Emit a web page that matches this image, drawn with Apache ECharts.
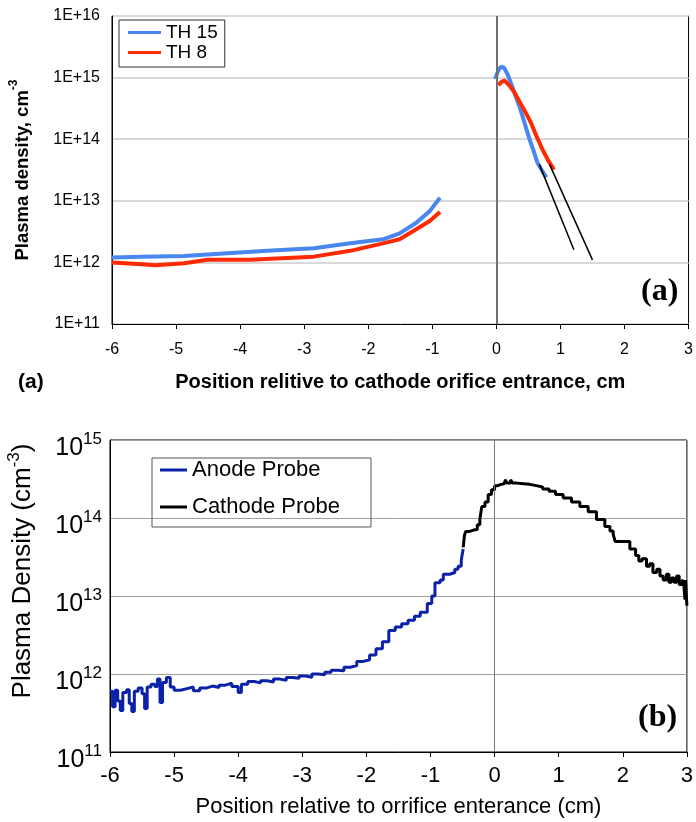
<!DOCTYPE html>
<html>
<head>
<meta charset="utf-8">
<script src="https://cdn.jsdelivr.net/npm/echarts@6/dist/echarts.min.js"></script>
<style>
html,body{margin:0;padding:0;background:#fff;}
#c{width:696px;height:822px;}
</style>
</head>
<body>
<div id="c"></div>
<script>
// ---------- Panel (a) data ----------
const th15X = [-6.0,-5.54,-4.87,-4.20,-3.58,-2.85,-2.28,-1.77,-1.51,-1.25,-1.04,-0.88,
               null,
               -0.02,0.03,0.07,0.12,0.18,0.25,0.36,0.45,0.52,0.58,0.64,0.72,0.78];
const th15Y = [1.20e12,1.24e12,1.27e12,1.41e12,1.54e12,1.70e12,2.04e12,2.37e12,2.96e12,4.4e12,6.8e12,1.12e13,
               null,
               9.5e14,1.3e15,1.5e15,1.45e15,1.1e15,7.0e14,3.4e14,1.7e14,9.8e13,6.5e13,4.2e13,3.0e13,2.4e13];
const th8X = [-6.0,-5.54,-5.33,-4.87,-4.51,-3.84,-3.27,-2.85,-2.28,-1.77,-1.51,-1.25,-1.04,-0.88,
              null,
              0.03,0.08,0.13,0.20,0.28,0.36,0.45,0.54,0.63,0.72,0.81,0.90];
const th8Y = [1.0e12,0.93e12,0.90e12,0.97e12,1.1e12,1.1e12,1.18e12,1.24e12,1.54e12,2.04e12,2.37e12,3.45e12,4.7e12,6.6e12,
              null,
              7.6e14,8.5e14,8.9e14,7.5e14,5.8e14,4.1e14,2.8e14,1.85e14,1.1e14,6.8e13,4.5e13,3.2e13];
const fit1X = [0.67,1.21];
const fit1Y = [3.9e13,1.6e12];
const fit2X = [0.83,1.50];
const fit2Y = [3.9e13,1.1e12];
const topNames = ['TH 15','TH 8'];

// ---------- Panel (b) data ----------
const anodeX = [-6.00,-5.96,-5.92,-5.88,-5.84,-5.80,-5.74,-5.70,-5.66,-5.62,-5.56,-5.50,-5.46,-5.42,-5.36,-5.30,-5.26,-5.22,-5.18,-5.12,-5.06,
  -5.00,-4.90,-4.80,-4.70,-4.60,-4.50,-4.40,-4.30,-4.20,-4.10,-4.00,-3.95,-3.85,-3.75,-3.65,-3.55,-3.45,-3.35,-3.25,-3.15,-3.05,
  -2.95,-2.85,-2.75,-2.65,-2.55,-2.45,-2.35,-2.25,-2.15,-2.05,-1.95,-1.85,-1.75,-1.65,-1.55,-1.45,-1.35,-1.25,-1.16,-1.05,
  -0.98,-0.93,-0.85,-0.80,-0.70,-0.62,-0.57,-0.52,-0.49];
const anodeY = [6.0e11,3.8e11,6.2e11,4.5e11,3.4e11,5.8e11,6.3e11,4.2e11,3.3e11,6.0e11,6.6e11,5.6e11,3.6e11,6.8e11,7.4e11,6.9e11,8.6e11,4.3e11,7.8e11,9.0e11,6.8e11,
  6.2e11,6.5e11,6.8e11,6.1e11,6.6e11,7.0e11,6.7e11,7.2e11,7.6e11,6.9e11,5.8e11,7.4e11,8.0e11,7.7e11,8.2e11,7.9e11,8.6e11,8.3e11,9.0e11,8.8e11,9.4e11,
  9.1e11,1.0e12,9.8e11,1.05e12,1.12e12,1.1e12,1.22e12,1.28e12,1.45e12,1.52e12,1.75e12,2.1e12,2.6e12,3.6e12,4.0e12,4.4e12,4.9e12,5.5e12,6.2e12,8.0e12,
  1.0e13,1.48e13,1.6e13,1.9e13,2.0e13,2.2e13,2.4e13,2.9e13,4.0e13];
const cathodeX = [-0.49,-0.47,-0.45,-0.40,-0.33,-0.27,-0.23,-0.20,-0.15,-0.10,-0.05,0.00,0.05,0.10,0.15,0.17,0.19,0.25,0.28,0.35,0.45,0.55,0.65,0.75,0.85,0.95,
  1.07,1.20,1.33,1.46,1.59,1.72,1.80,1.85,1.88,1.98,2.11,2.20,2.25,2.30,2.37,2.42,2.47,2.53,2.58,2.63,2.68,2.72,2.76,2.80,2.84,2.88,2.92,2.95,2.97,2.98,3.00];
const cathodeY = [4.2e13,6.0e13,6.7e13,7.0e13,7.1e13,8.2e13,9.6e13,1.4e14,1.6e14,2.0e14,2.3e14,2.6e14,2.7e14,2.75e14,2.8e14,3.1e14,2.8e14,3.1e14,2.8e14,2.75e14,2.7e14,2.6e14,2.5e14,2.35e14,2.2e14,2.0e14,
  1.8e14,1.6e14,1.4e14,1.2e14,9.6e13,7.8e13,6.8e13,6.2e13,5.0e13,5.0e13,4.0e13,3.3e13,2.8e13,3.0e13,2.4e13,2.6e13,2.0e13,2.2e13,1.8e13,1.6e13,1.9e13,1.5e13,1.7e13,1.5e13,1.8e13,1.4e13,1.6e13,1.5e13,9.0e12,1.6e13,7.5e12];
const bottomNames = ['Anode Probe','Cathode Probe'];

function pairs(xs, ys) {
  return xs.map((x, i) => (x === null ? '-' : [x, ys[i]]));
}

const sans = "'Liberation Sans', Arial, Helvetica, sans-serif";
const serif = "'Liberation Serif', 'Times New Roman', serif";

const chart = echarts.init(document.getElementById('c'), null, {renderer: 'canvas'});

const option = {
  animation: false,
  backgroundColor: '#fff',
  grid: [
    {left: 110, top: 16, right: 6, bottom: 498, show: true, borderColor: '#000', borderWidth: 1, containLabel: false},
    {left: 110, top: 440, right: 9, bottom: 70, show: true, borderColor: '#000', borderWidth: 1, containLabel: false}
  ],
  legend: [
    {
      data: topNames, orient: 'vertical', left: 119, top: 20,
      itemWidth: 33, itemHeight: 3, itemGap: 1, icon: 'rect',
      padding: [3, 7, 5, 9],
      borderColor: '#333', borderWidth: 1,
      textStyle: {fontFamily: sans, fontSize: 19, color: '#000', lineHeight: 19}
    },
    {
      data: bottomNames, orient: 'vertical', left: 152, top: 458,
      itemWidth: 27, itemHeight: 3, itemGap: 15, icon: 'rect',
      padding: [1, 31, 9, 8],
      borderColor: '#555', borderWidth: 1,
      textStyle: {fontFamily: sans, fontSize: 22, color: '#000', lineHeight: 22}
    }
  ],
  xAxis: [
    {
      gridIndex: 0, type: 'value', min: -6, max: 3, interval: 1,
      axisLine: {show: true, onZero: false, lineStyle: {color: '#000', width: 1}},
      axisTick: {show: true, length: 5, inside: false, lineStyle: {color: '#000'}},
      axisLabel: {fontFamily: sans, fontSize: 16, color: '#000', margin: 18},
      splitLine: {show: false},
      name: 'Position relitive to cathode orifice entrance, cm',
      nameLocation: 'middle', nameGap: 48,
      nameTextStyle: {fontFamily: sans, fontSize: 20, fontWeight: 'bold', color: '#000'}
    },
    {
      gridIndex: 1, type: 'value', min: -6, max: 3, interval: 1,
      axisLine: {show: true, onZero: false, lineStyle: {color: '#000', width: 1}},
      axisTick: {show: true, length: 5, inside: false, lineStyle: {color: '#000'}},
      axisLabel: {fontFamily: sans, fontSize: 22, color: '#000', margin: 13},
      splitLine: {show: false},
      name: 'Position relative to orrifice enterance (cm)',
      nameLocation: 'middle', nameGap: 44,
      nameTextStyle: {fontFamily: sans, fontSize: 22, color: '#000'}
    }
  ],
  yAxis: [
    {
      gridIndex: 0, type: 'log', logBase: 10, min: 1e11, max: 1e16,
      axisLine: {show: true, onZero: false, lineStyle: {color: '#000'}},
      axisTick: {show: false},
      minorTick: {show: false},
      axisLabel: {
        fontFamily: sans, fontSize: 16, color: '#000', margin: 12,
        formatter: v => '1E+' + Math.round(Math.log10(v))
      },
      splitLine: {show: true, lineStyle: {color: '#d9d9d9', width: 2}},
      name: '{a|Plasma density, cm}{s|-3}',
      nameLocation: 'middle', nameGap: 80,
      nameTextStyle: {
        rich: {
          a: {fontFamily: sans, fontSize: 18.5, fontWeight: 'bold', color: '#000', lineHeight: 24, verticalAlign: 'bottom'},
          s: {fontFamily: sans, fontSize: 12, fontWeight: 'bold', color: '#000', lineHeight: 24, verticalAlign: 'top'}
        }
      }
    },
    {
      gridIndex: 1, type: 'log', logBase: 10, min: 1e11, max: 1e15,
      axisLine: {show: true, onZero: false, lineStyle: {color: '#000'}},
      axisTick: {show: false},
      minorTick: {show: false},
      axisLabel: {
        margin: 8,
        padding: [12, 0, 0, 0],
        formatter: v => '{b|10}{s|' + Math.round(Math.log10(v)) + '}',
        rich: {
          b: {fontFamily: sans, fontSize: 25, color: '#000', lineHeight: 30, verticalAlign: 'bottom', padding: [10, 0, 0, 0]},
          s: {fontFamily: sans, fontSize: 17, color: '#000', lineHeight: 30, verticalAlign: 'top'}
        }
      },
      splitLine: {show: true, lineStyle: {color: '#a0a0a0', width: 1}}
    }
  ],
  series: [
    {
      name: 'TH 15', type: 'line', xAxisIndex: 0, yAxisIndex: 0,
      data: pairs(th15X, th15Y), showSymbol: false, connectNulls: false,
      lineStyle: {color: '#4a86f0', width: 4}, itemStyle: {color: '#4a86f0'}, z: 3
    },
    {
      name: 'TH 8', type: 'line', xAxisIndex: 0, yAxisIndex: 0,
      data: pairs(th8X, th8Y), showSymbol: false, connectNulls: false,
      lineStyle: {color: '#ff2a00', width: 4}, itemStyle: {color: '#ff2a00'}, z: 4,
      markLine: {
        silent: true, symbol: 'none', label: {show: false},
        lineStyle: {color: '#707070', width: 2, type: 'solid'},
        data: [{xAxis: 0}]
      }
    },
    {
      name: 'fit1', type: 'line', xAxisIndex: 0, yAxisIndex: 0,
      data: pairs(fit1X, fit1Y), showSymbol: false,
      lineStyle: {color: '#000', width: 1.5}, z: 5
    },
    {
      name: 'fit2', type: 'line', xAxisIndex: 0, yAxisIndex: 0,
      data: pairs(fit2X, fit2Y), showSymbol: false,
      lineStyle: {color: '#000', width: 1.5}, z: 5
    },
    {
      name: 'Anode Probe', type: 'line', xAxisIndex: 1, yAxisIndex: 1,
      data: pairs(anodeX, anodeY), showSymbol: false, step: 'end',
      lineStyle: {color: '#0a22a8', width: 3}, itemStyle: {color: '#0a22a8'}, z: 3,
      markLine: {
        silent: true, symbol: 'none', label: {show: false},
        lineStyle: {color: '#777', width: 1, type: 'solid'},
        data: [{xAxis: 0}]
      }
    },
    {
      name: 'Cathode Probe', type: 'line', xAxisIndex: 1, yAxisIndex: 1,
      data: pairs(cathodeX, cathodeY), showSymbol: false, step: 'end',
      lineStyle: {color: '#000', width: 3}, itemStyle: {color: '#000'}, z: 4
    }
  ],
  graphic: [
    {type: 'text', left: 18, top: 372, style: {text: '(a)', fontFamily: sans, fontSize: 21, fontWeight: 'bold', fill: '#000'}},
    {type: 'text', left: 641, top: 276, style: {text: '(a)', fontFamily: serif, fontSize: 32, fontWeight: 'bold', fill: '#000'}},
    {type: 'text', left: 638, top: 702, style: {text: '(b)', fontFamily: serif, fontSize: 32, fontWeight: 'bold', fill: '#000'}},
    {
      type: 'text', x: 21, y: 571, rotation: Math.PI / 2,
      style: {
        text: '{a|Plasma Density (cm}{s|-3}{a|)}',
        align: 'center', verticalAlign: 'middle',
        rich: {
          a: {fontFamily: sans, fontSize: 26, fill: '#000', lineHeight: 30, verticalAlign: 'bottom'},
          s: {fontFamily: sans, fontSize: 17, fill: '#000', lineHeight: 30, verticalAlign: 'top'}
        }
      }
    }
  ]
};

chart.setOption(option);
</script>
</body>
</html>
